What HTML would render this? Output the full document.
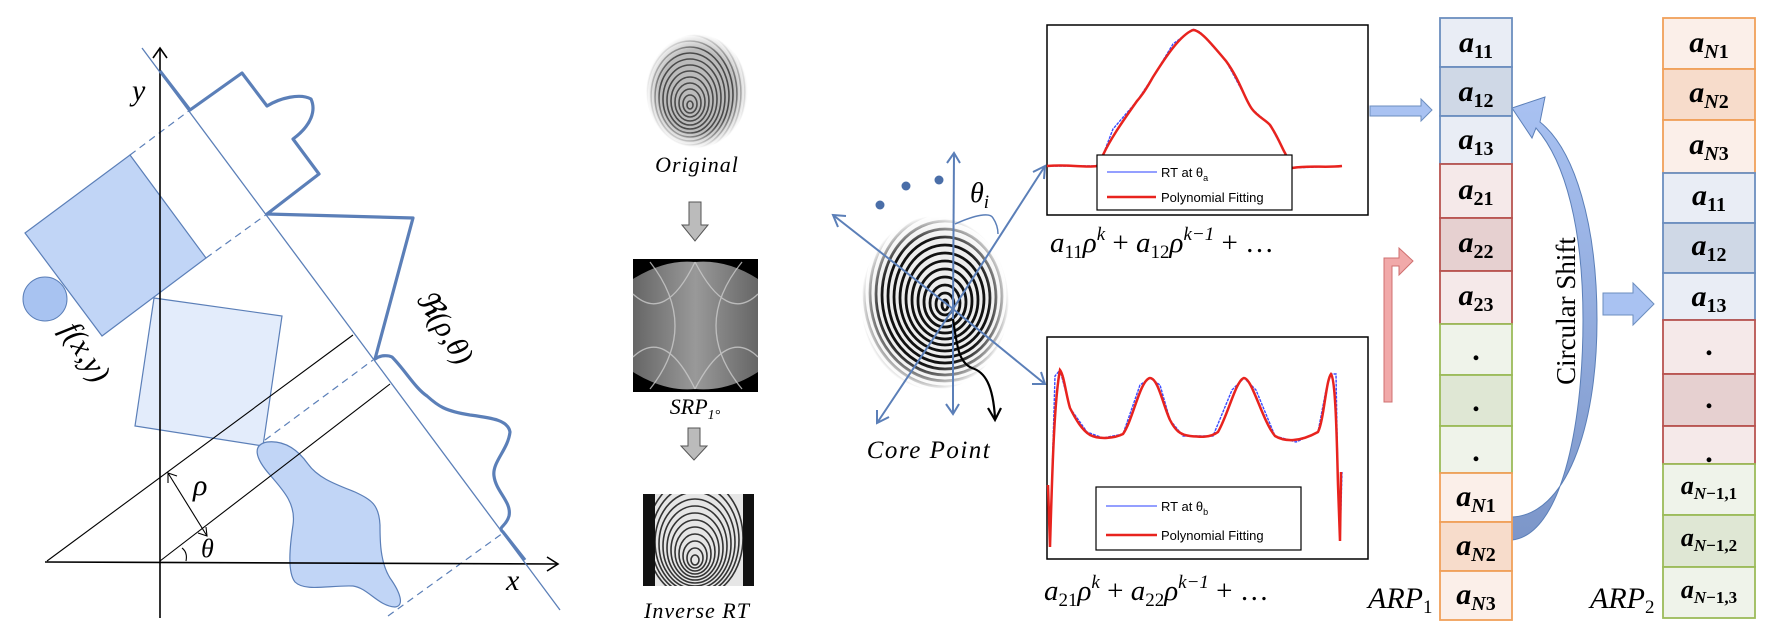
<!DOCTYPE html>
<html><head><meta charset="utf-8"><style>
html,body{margin:0;padding:0;background:#fff;}
svg{display:block;}
text{font-family:"Liberation Serif",serif;}
.m{font-style:italic;}
.sans{font-family:"Liberation Sans",sans-serif;}
</style></head><body>
<svg width="1776" height="630" viewBox="0 0 1776 630" xmlns="http://www.w3.org/2000/svg">
<defs>
<radialGradient id="soft" cx="50%" cy="50%" r="50%">
<stop offset="0.72" stop-color="#fff"/><stop offset="1" stop-color="#000"/>
</radialGradient>
<mask id="mCore"><ellipse cx="935" cy="303" rx="74" ry="87" fill="url(#soft)"/></mask>
<mask id="mOrig"><ellipse cx="697" cy="91" rx="51" ry="57" fill="url(#soft)"/></mask>
<linearGradient id="arc" x1="0" y1="0" x2="0" y2="1">
<stop offset="0" stop-color="#a9c2f2"/><stop offset="1" stop-color="#7c96c9"/>
</linearGradient>
<linearGradient id="srpg" x1="0" y1="0" x2="1" y2="0">
<stop offset="0" stop-color="#666"/><stop offset="0.5" stop-color="#999"/><stop offset="1" stop-color="#666"/>
</linearGradient>
<clipPath id="cInv"><rect x="655" y="494" width="88" height="92"/></clipPath>
</defs>

<!-- ============ LEFT PANEL ============ -->
<polygon points="25,233 130,155 206,258 102,336" fill="#c1d5f6" stroke="#5b7fb8" stroke-width="1.2"/>
<circle cx="45" cy="299" r="22" fill="#a8c3f1" stroke="#5b7fb8" stroke-width="1"/>
<polygon points="154,298 282,316 263,446 135,426" fill="#e3ecfb" stroke="#5b7fb8" stroke-width="1.2"/>
<path d="M267,442 C252,445 255,458 270,475 C285,492 296,505 293,525 C290,545 287,572 295,582 C305,592 330,585 353,586 C368,588 378,606 395,607 C405,606 400,592 390,578 C380,562 380,540 380,525 C379,505 372,500 355,492 C335,484 318,478 308,464 C298,450 285,440 267,442 Z" fill="#c1d5f6" stroke="#5b7fb8" stroke-width="1.2"/>
<g stroke="#5b7fb8" stroke-width="1.2" stroke-dasharray="7,5" fill="none">
<line x1="130" y1="155" x2="190" y2="110"/>
<line x1="206" y1="258" x2="267" y2="214"/>
<line x1="265" y1="440" x2="373" y2="360"/>
<line x1="388" y1="616" x2="503" y2="533"/>
</g>
<g stroke="#000" stroke-width="1.6" fill="none">
<line x1="160" y1="618" x2="160" y2="48"/>
<polyline points="153,58 160,48 167,58"/>
<line x1="45" y1="562" x2="558" y2="564"/>
<polyline points="547,557 558,564 547,571"/>
</g>
<g stroke="#000" stroke-width="1.1" fill="none">
<line x1="47" y1="561" x2="353" y2="335"/>
<line x1="160" y1="561" x2="390" y2="384"/>
<line x1="168" y1="473" x2="207" y2="536"/>
<polyline points="168,483 168,473 177,476"/>
<polyline points="198,533 207,536 206,527"/>
<path d="M186,561 C187,556 186,551 182,548"/>
</g>
<line x1="142" y1="48" x2="560" y2="610" stroke="#5b7fb8" stroke-width="1.3"/>
<path d="M160,71 L190,110 L242,73 L267,106 C280,98 300,93 311,99 C316,110 312,125 293,139 L319,174 L267,214 L413,218 L375,359 C380,355 388,355 392,357 C405,370 415,388 427,396 C438,406 445,411 470,415 C492,418 508,420 510,432 C508,450 492,462 494,476 C496,492 512,502 509,516 C506,527 497,527 503,532 L525,560" fill="none" stroke="#5b7fb8" stroke-width="3.2" stroke-linejoin="round"/>
<text x="132" y="100" class="m" font-size="30">y</text>
<text x="506" y="590" class="m" font-size="30">x</text>
<text x="193" y="495" class="m" font-size="30">ρ</text>
<text x="201" y="557" class="m" font-size="26">θ</text>
<text transform="translate(60,330) rotate(58)" class="m" font-size="31">f(x,y)</text>
<text transform="translate(415,298) rotate(58)" class="m" font-size="30">ℜ(ρ,θ)</text>

<!-- ============ MIDDLE COLUMN ============ -->
<g mask="url(#mOrig)">
<rect x="640" y="30" width="115" height="125" fill="#bbb"/>
<g fill="none" stroke="#4a4a4a" stroke-width="1.6">
<ellipse cx="690" cy="105" rx="3" ry="4"/><ellipse cx="690" cy="104" rx="7" ry="9"/><ellipse cx="690" cy="103" rx="11" ry="14"/><ellipse cx="690" cy="102" rx="15" ry="19"/><ellipse cx="690" cy="101" rx="19" ry="24"/><ellipse cx="690" cy="100" rx="23" ry="29"/><ellipse cx="690" cy="99" rx="27" ry="34"/><ellipse cx="690" cy="98" rx="31" ry="39"/><ellipse cx="690" cy="97" rx="35" ry="44"/><ellipse cx="690" cy="96" rx="39" ry="49"/><ellipse cx="690" cy="95" rx="43" ry="54"/><ellipse cx="690" cy="94" rx="47" ry="59"/><ellipse cx="690" cy="93" rx="51" ry="64"/><ellipse cx="690" cy="92" rx="55" ry="69"/>
</g>
</g>
<text x="697" y="172" text-anchor="middle" class="m" font-size="22" letter-spacing="1">Original</text>
<polygon points="689,202 701,202 701,225 708,225 695,241 682,225 689,225" fill="#bbb" stroke="#555" stroke-width="1"/>
<!-- SRP -->
<rect x="633" y="259" width="125" height="133" fill="#000"/>
<path d="M633,279 Q665,259 695,262 Q727,259 758,279 L758,372 Q727,392 695,389 Q665,392 633,372 Z" fill="url(#srpg)"/>
<g fill="none" stroke="#ccc" stroke-width="1.3" opacity="0.8">
<path d="M633,294 Q665,324 695,262"/><path d="M633,357 Q665,327 695,389"/>
<path d="M758,294 Q727,324 695,262"/><path d="M758,357 Q727,327 695,389"/>
<path d="M650,262 Q700,326 650,389"/><path d="M742,262 Q690,326 742,389"/>
</g>
<text x="695" y="414" text-anchor="middle" class="m" font-size="22">SRP<tspan font-size="14" dy="5">1°</tspan></text>
<polygon points="688,428 700,428 700,446 707,446 694,460 681,446 688,446" fill="#bbb" stroke="#555" stroke-width="1"/>
<!-- Inverse RT -->
<rect x="643" y="494" width="111" height="92" fill="#e6e6e6"/>
<rect x="643" y="494" width="12" height="92" fill="#111"/>
<rect x="743" y="494" width="11" height="92" fill="#111"/>
<g clip-path="url(#cInv)" fill="none" stroke="#333" stroke-width="1.6">
<ellipse cx="695" cy="560" rx="4" ry="5"/><ellipse cx="695" cy="558" rx="8" ry="10"/><ellipse cx="695" cy="556" rx="12" ry="15"/><ellipse cx="695" cy="554" rx="16" ry="20"/><ellipse cx="695" cy="552" rx="20" ry="25"/><ellipse cx="695" cy="550" rx="24" ry="30"/><ellipse cx="695" cy="548" rx="28" ry="35"/><ellipse cx="695" cy="546" rx="32" ry="40"/><ellipse cx="695" cy="544" rx="36" ry="45"/><ellipse cx="695" cy="542" rx="40" ry="50"/><ellipse cx="695" cy="540" rx="44" ry="55"/><ellipse cx="695" cy="538" rx="48" ry="60"/>
</g>
<text x="697" y="618" text-anchor="middle" class="m" font-size="22" letter-spacing="1">Inverse RT</text>

<!-- ============ CORE FINGERPRINT ============ -->
<g mask="url(#mCore)">
<rect x="855" y="210" width="165" height="185" fill="#eee"/>
<g fill="none" stroke="#111" stroke-width="2.8">
<ellipse cx="945" cy="305" rx="3" ry="5"/><ellipse cx="945" cy="304" rx="9" ry="11"/><ellipse cx="945" cy="303" rx="15" ry="18"/><ellipse cx="945" cy="302" rx="21" ry="25"/><ellipse cx="945" cy="301" rx="27" ry="32"/><ellipse cx="945" cy="300" rx="33" ry="39"/><ellipse cx="945" cy="299" rx="39" ry="46"/><ellipse cx="945" cy="298" rx="45" ry="53"/><ellipse cx="945" cy="297" rx="51" ry="60"/><ellipse cx="945" cy="296" rx="57" ry="67"/><ellipse cx="945" cy="295" rx="63" ry="74"/><ellipse cx="945" cy="294" rx="69" ry="81"/><ellipse cx="945" cy="293" rx="75" ry="88"/><ellipse cx="945" cy="292" rx="81" ry="95"/><ellipse cx="945" cy="291" rx="87" ry="102"/>
</g>
</g>
<g stroke="#5b7fb8" stroke-width="2" fill="none">
<line x1="953" y1="309" x2="954" y2="153"/><polyline points="947,163 954,153 960,163"/>
<line x1="953" y1="309" x2="953" y2="414"/><polyline points="946,404 953,414 959,404"/>
<line x1="953" y1="309" x2="833" y2="215"/><polyline points="838,227 833,215 846,216"/>
<line x1="953" y1="309" x2="1045" y2="384"/><polyline points="1032,384 1045,384 1041,372"/>
<line x1="953" y1="309" x2="1045" y2="166"/><polyline points="1033,172 1045,166 1044,179"/>
<line x1="953" y1="309" x2="877" y2="423"/><polyline points="877,410 877,423 889,417"/>
<path d="M955,224 C975,215 990,212 993,218 C997,224 998,230 998,234" stroke-width="1.5"/>
</g>
<circle cx="880" cy="205" r="4.5" fill="#4a6ea8"/><circle cx="906" cy="186" r="4.5" fill="#4a6ea8"/><circle cx="939" cy="180" r="4.5" fill="#4a6ea8"/>
<text x="970" y="202" class="m" font-size="28">θ<tspan font-size="19" dy="6">i</tspan></text>
<path d="M953,319 C957,345 958,362 972,368 C985,372 993,385 995,418" fill="none" stroke="#000" stroke-width="2.2"/>
<polyline points="988,408 995,420 1001,408" fill="none" stroke="#000" stroke-width="2.2"/>
<text x="929" y="458" text-anchor="middle" class="m" font-size="25" letter-spacing="1.5">Core Point</text>

<!-- ============ PLOT 1 ============ -->
<rect x="1047" y="25" width="321" height="190" fill="#fff" stroke="#000" stroke-width="1.5"/>
<path d="M1047,166 L1097,166 L1103,155 L1113,129 L1137,101 L1153,77 L1173,44 L1193,29 L1200,32 L1226,61 L1252,109 L1270,125 L1285,153 L1292,168 L1342,166" fill="none" stroke="#3a4bff" stroke-width="1.4" stroke-dasharray="3,1"/>
<path d="M1047,166 C1070,164 1085,168 1097,166 L1103,155 C1110,140 1120,125 1137,101 C1145,92 1150,82 1153,77 C1165,58 1180,35 1193,30 C1200,30 1210,42 1226,61 C1240,80 1245,100 1252,109 C1258,117 1266,120 1270,125 C1278,137 1282,148 1285,153 L1292,168 C1310,165 1325,168 1342,166" fill="none" stroke="#e8231e" stroke-width="2.5"/>
<rect x="1097" y="155" width="195" height="55" fill="#fff" stroke="#000" stroke-width="1.2"/>
<line x1="1107" y1="172" x2="1157" y2="172" stroke="#5566ff" stroke-width="1.2"/>
<line x1="1107" y1="197" x2="1156" y2="197" stroke="#e8231e" stroke-width="2.5"/>
<text x="1161" y="177" class="sans" font-size="13">RT at θ<tspan font-size="9" dy="4">a</tspan></text>
<text x="1161" y="202" class="sans" font-size="13">Polynomial Fitting</text>
<text x="1050" y="252" class="m" font-size="29">a<tspan font-size="19" dy="6" font-style="normal">11</tspan><tspan dy="-6">ρ</tspan><tspan font-size="19" dy="-12">k</tspan><tspan dy="12" font-style="normal"> + </tspan>a<tspan font-size="19" dy="6" font-style="normal">12</tspan><tspan dy="-6">ρ</tspan><tspan font-size="19" dy="-12">k−1</tspan><tspan dy="12" font-style="normal"> +  …</tspan></text>

<!-- ============ PLOT 2 ============ -->
<rect x="1047" y="337" width="321" height="222" fill="#fff" stroke="#000" stroke-width="1.5"/>
<path d="M1048,485 L1050,547 L1055,376 L1060,370 L1070,408 L1087,432 L1103,438 L1123,434 L1140,385 L1150,378 L1160,385 L1170,420 L1183,436 L1213,436 L1232,390 L1244,378 L1256,390 L1275,436 L1296,442 L1318,432 L1326,390 L1331,374 L1336,374 L1338,485 L1340,541 L1342,472" fill="none" stroke="#3a4bff" stroke-width="1.4" stroke-dasharray="3,1"/>
<path d="M1048,485 L1050,547 C1052,480 1054,400 1060,370 C1064,375 1066,395 1070,408 C1076,420 1082,430 1090,435 C1100,440 1115,438 1123,434 C1133,420 1140,380 1150,378 C1158,378 1163,405 1170,420 C1175,430 1180,435 1190,436 C1200,437 1210,438 1218,432 C1228,415 1236,380 1244,378 C1252,378 1262,420 1275,436 C1285,442 1300,442 1318,432 C1324,420 1326,380 1331,374 C1336,380 1337,450 1338,485 L1340,541 L1341,472" fill="none" stroke="#e8231e" stroke-width="2.5"/>
<rect x="1096" y="487" width="205" height="63" fill="#fff" stroke="#000" stroke-width="1.2"/>
<line x1="1106" y1="506" x2="1157" y2="506" stroke="#5566ff" stroke-width="1.2"/>
<line x1="1106" y1="535" x2="1157" y2="535" stroke="#e8231e" stroke-width="2.5"/>
<text x="1161" y="511" class="sans" font-size="13">RT at θ<tspan font-size="9" dy="4">b</tspan></text>
<text x="1161" y="540" class="sans" font-size="13">Polynomial Fitting</text>
<text x="1044" y="600" class="m" font-size="29">a<tspan font-size="19" dy="6" font-style="normal">21</tspan><tspan dy="-6">ρ</tspan><tspan font-size="19" dy="-12">k</tspan><tspan dy="12" font-style="normal"> + </tspan>a<tspan font-size="19" dy="6" font-style="normal">22</tspan><tspan dy="-6">ρ</tspan><tspan font-size="19" dy="-12">k−1</tspan><tspan dy="12" font-style="normal"> +  …</tspan></text>

<!-- arrows -->
<polygon points="1370,106 1421,106 1421,99 1432,110 1421,121 1421,116 1370,116" fill="#a9c2f2" stroke="#6c8ebf" stroke-width="1"/>
<polygon points="1384,402 1384,258 1399,258 1399,248 1413,261 1399,275 1399,266 1392,266 1392,402" fill="#f1a9a9" stroke="#d07070" stroke-width="1"/>
<polygon points="1603,293 1633,293 1633,283 1654,304 1633,325 1633,315 1603,315" fill="#a9c2f2" stroke="#6c8ebf" stroke-width="1"/>
<path d="M1512,517 C1565,515 1597,430 1597,320 C1597,225 1575,150 1540,122 L1545,97 L1512,108 L1532,138 L1536,128 C1566,162 1583,230 1583,320 C1583,430 1560,535 1512,540 Z" fill="url(#arc)" stroke="#5b7fb8" stroke-width="1"/>
<text transform="translate(1575,311) rotate(-90)" text-anchor="middle" font-size="27">Circular Shift</text>

<!-- ARP1 -->
<g stroke-width="1.8">
<rect x="1440" y="18" width="72" height="49" fill="#e9edf5" stroke="#6c8ebf"/>
<rect x="1440" y="67" width="72" height="49" fill="#cfd8e6" stroke="#6c8ebf"/>
<rect x="1440" y="116" width="72" height="48" fill="#e9edf5" stroke="#6c8ebf"/>
<rect x="1440" y="164" width="72" height="54" fill="#f5e9e9" stroke="#b85450"/>
<rect x="1440" y="218" width="72" height="53" fill="#e6d0d0" stroke="#b85450"/>
<rect x="1440" y="271" width="72" height="53" fill="#f5e9e9" stroke="#b85450"/>
<rect x="1440" y="324" width="72" height="51" fill="#eff3ea" stroke="#9bbb59"/>
<rect x="1440" y="375" width="72" height="51" fill="#dfe7d4" stroke="#9bbb59"/>
<rect x="1440" y="426" width="72" height="47" fill="#eff3ea" stroke="#9bbb59"/>
<rect x="1440" y="473" width="72" height="49" fill="#fbefe9" stroke="#f0a05a"/>
<rect x="1440" y="522" width="72" height="49" fill="#f7dccb" stroke="#f0a05a"/>
<rect x="1440" y="571" width="72" height="49" fill="#fbefe9" stroke="#f0a05a"/>
</g>
<g class="m" font-size="30" text-anchor="middle" font-weight="bold">
<text x="1476" y="52">a<tspan font-size="20" dy="6" font-style="normal">11</tspan></text>
<text x="1476" y="101">a<tspan font-size="20" dy="6" font-style="normal">12</tspan></text>
<text x="1476" y="149">a<tspan font-size="20" dy="6" font-style="normal">13</tspan></text>
<text x="1476" y="199">a<tspan font-size="20" dy="6" font-style="normal">21</tspan></text>
<text x="1476" y="252">a<tspan font-size="20" dy="6" font-style="normal">22</tspan></text>
<text x="1476" y="305">a<tspan font-size="20" dy="6" font-style="normal">23</tspan></text>
<text x="1476" y="360" font-style="normal">.</text>
<text x="1476" y="411" font-style="normal">.</text>
<text x="1476" y="461" font-style="normal">.</text>
<text x="1476" y="506">a<tspan font-size="20" dy="6">N</tspan><tspan font-size="20" font-style="normal">1</tspan></text>
<text x="1476" y="555">a<tspan font-size="20" dy="6">N</tspan><tspan font-size="20" font-style="normal">2</tspan></text>
<text x="1476" y="604">a<tspan font-size="20" dy="6">N</tspan><tspan font-size="20" font-style="normal">3</tspan></text>
</g>
<text x="1368" y="608" class="m" font-size="30">ARP<tspan font-size="19" dy="5" font-style="normal">1</tspan></text>

<!-- ARP2 -->
<g stroke-width="1.8">
<rect x="1663" y="18" width="92" height="51" fill="#fbefe9" stroke="#f0a05a"/>
<rect x="1663" y="69" width="92" height="51" fill="#f7dccb" stroke="#f0a05a"/>
<rect x="1663" y="120" width="92" height="53" fill="#fbefe9" stroke="#f0a05a"/>
<rect x="1663" y="173" width="92" height="50" fill="#e9edf5" stroke="#6c8ebf"/>
<rect x="1663" y="223" width="92" height="50" fill="#cfd8e6" stroke="#6c8ebf"/>
<rect x="1663" y="273" width="92" height="47" fill="#e9edf5" stroke="#6c8ebf"/>
<rect x="1663" y="320" width="92" height="54" fill="#f5e9e9" stroke="#b85450"/>
<rect x="1663" y="374" width="92" height="52" fill="#e6d0d0" stroke="#b85450"/>
<rect x="1663" y="426" width="92" height="38" fill="#f5e9e9" stroke="#b85450"/>
<rect x="1663" y="464" width="92" height="51" fill="#eff3ea" stroke="#9bbb59"/>
<rect x="1663" y="515" width="92" height="52" fill="#dfe7d4" stroke="#9bbb59"/>
<rect x="1663" y="567" width="92" height="51" fill="#eff3ea" stroke="#9bbb59"/>
</g>
<g class="m" font-size="30" text-anchor="middle" font-weight="bold">
<text x="1709" y="52">a<tspan font-size="20" dy="6">N</tspan><tspan font-size="20" font-style="normal">1</tspan></text>
<text x="1709" y="102">a<tspan font-size="20" dy="6">N</tspan><tspan font-size="20" font-style="normal">2</tspan></text>
<text x="1709" y="154">a<tspan font-size="20" dy="6">N</tspan><tspan font-size="20" font-style="normal">3</tspan></text>
<text x="1709" y="205">a<tspan font-size="20" dy="6" font-style="normal">11</tspan></text>
<text x="1709" y="255">a<tspan font-size="20" dy="6" font-style="normal">12</tspan></text>
<text x="1709" y="306">a<tspan font-size="20" dy="6" font-style="normal">13</tspan></text>
<text x="1709" y="355" font-style="normal">.</text>
<text x="1709" y="408" font-style="normal">.</text>
<text x="1709" y="462" font-style="normal">.</text>
<text x="1709" y="494" font-size="26">a<tspan font-size="17" dy="5">N</tspan><tspan font-size="17" font-style="normal">−1,1</tspan></text>
<text x="1709" y="546" font-size="26">a<tspan font-size="17" dy="5">N</tspan><tspan font-size="17" font-style="normal">−1,2</tspan></text>
<text x="1709" y="598" font-size="26">a<tspan font-size="17" dy="5">N</tspan><tspan font-size="17" font-style="normal">−1,3</tspan></text>
</g>
<text x="1590" y="608" class="m" font-size="30">ARP<tspan font-size="19" dy="5" font-style="normal">2</tspan></text>
</svg>
</body></html>
